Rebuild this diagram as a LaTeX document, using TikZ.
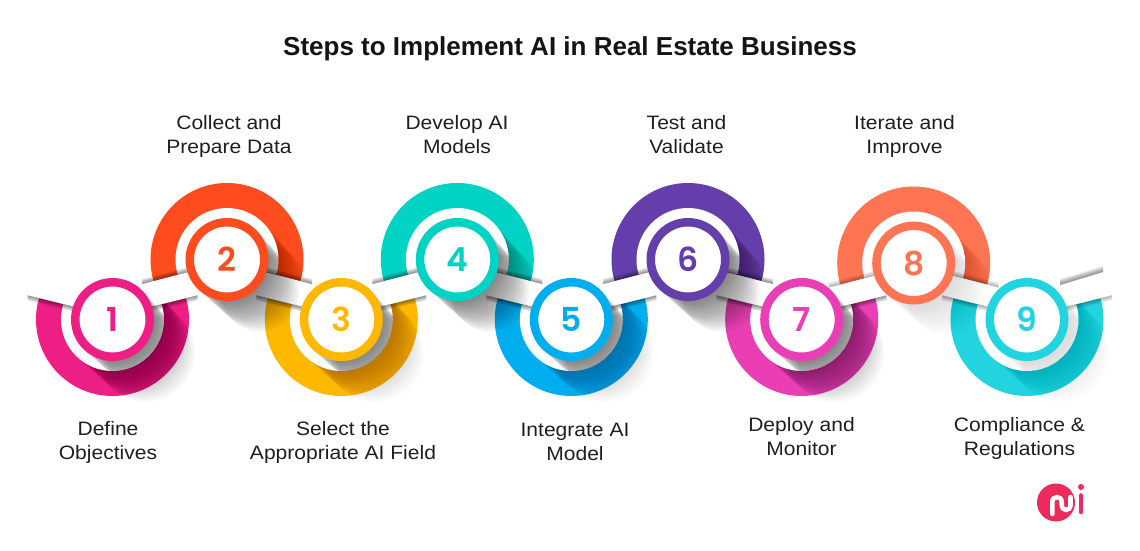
\documentclass[tikz,border=0pt]{standalone}
\usepackage{fontspec}
\setmainfont{Liberation Sans}
\newfontfamily\labelfont[FakeStretch=1.085]{Liberation Sans}
\newfontfamily\numfont[BoldFont={Poppins SemiBold}]{Poppins}
\tikzset{
  stepdisc/.style={circle,fill=white,line width=8.5pt,minimum size=74.5pt,inner sep=0pt,font=\numfont\fontsize{33}{33}\selectfont\bfseries},
  steplabel/.style={align=center,text=black!88,inner sep=0pt,font=\labelfont\fontsize{19.4}{24}\selectfont},
}
\definecolor{c1}{HTML}{ED1E84}
\definecolor{c2}{HTML}{FF4C1E}
\definecolor{c3}{HTML}{FFB800}
\definecolor{c4}{HTML}{00D2C3}
\definecolor{c5}{HTML}{00AEEF}
\definecolor{c6}{HTML}{643FAB}
\definecolor{c7}{HTML}{E93EB4}
\definecolor{c8}{HTML}{FF7553}
\definecolor{c9}{HTML}{22D3E0}
\definecolor{logoc}{HTML}{EC2A5B}
% sweep: x,y,radius,steps,alpha -- the disc narrows slightly as it moves, which softens the edge
\newcommand\sweepdisc[5]{\foreach \k in {1,...,#4}{\pgfmathsetmacro\rr{#3-0.08*\k}\fill[black,opacity=#5] (#1+\k,#2+\k) circle[radius=\rr pt];}}
\newcommand\topclip[2]{(#1-90,#2-90) -- (#1+90,#2-90) -- (#1+90,#2+25.9) -- (#1,#2+2.5) -- (#1-90,#2+25.9) -- cycle}
\newcommand\botclip[2]{(#1-130,#2+130) -- (#1+130,#2+130) -- (#1+130,#2-35.5) -- (#1,#2-3) -- (#1-130,#2-35.5) -- cycle}
\newcommand\belowtop[2]{(#1-130,#2+140) -- (#1+130,#2+140) -- (#1+130,#2+36.3) -- (#1,#2+2.5) -- (#1-130,#2+36.3) -- cycle}
% top ring: x,y,colour,alpha
\newcommand\topring[4]{\begin{scope}\clip \topclip{#1}{#2};
  \fill[#3] (#1,#2) circle[radius=76.5pt];
  \begin{scope}\clip (#1,#2) circle[radius=76.5pt];\sweepdisc{#1}{#2}{51.5}{34}{#4}\end{scope}
  \fill[white] (#1,#2) circle[radius=51.5pt];
\end{scope}}
\newcommand\botring[4]{\begin{scope}\clip \botclip{#1}{#2};
  \fill[#3] (#1,#2) circle[radius=76.5pt];
  \sweepdisc{#1}{#2}{51.5}{34}{#4}
  \fill[white] (#1,#2) circle[radius=51.5pt];
\end{scope}}
% strip between a top ring and a bottom ring: top x,y, bottom x,y, s = side of the top end
\newcommand\strip[5]{\fill[white] (#1,#2+2.5) -- (#1+#5*85,#2+24.6) -- (#3,#4-3) -- (#3-#5*85,#4-24.2) -- cycle;}
% bars: fade stack
\newcommand\edgebar[5]{\foreach \d in {1,...,6}{\fill[black,opacity=#5] (#1) -- (#2) -- ([yshift=#3*\d*1pt*#4]#2) -- ([yshift=#3*\d*1pt*#4]#1) -- cycle;}}
\newcommand\topbars[3]{%
  \edgebar{#1-85,#2+24.6}{#1-35,#2+11.6}{1}{.85}{#3}
  \edgebar{#1+85,#2+24.6}{#1+35,#2+11.6}{1}{.85}{#3}}
\newcommand\botbars[3]{%
  \edgebar{#1-85,#2-24.2}{#1-35,#2-11.8}{-1}{.85}{#3}
  \edgebar{#1+85,#2-24.2}{#1+35,#2-11.8}{-1}{.85}{#3}}
% circle shadow for a bottom step (inside the white hollow only)
\newcommand\botshadow[3]{\begin{scope}\clip (#1,#2) circle[radius=51.5pt];\sweepdisc{#1}{#2}{41.5}{34}{#3}\end{scope}}
% circle shadow for a top step (hollow plus everything under the strip line)
\newcommand\topshadow[3]{%
  \begin{scope}\clip \topclip{#1}{#2};\clip (#1,#2) circle[radius=51.5pt];\sweepdisc{#1}{#2}{41.5}{34}{#3}\end{scope}
  \begin{scope}\clip \belowtop{#1}{#2};\sweepdisc{#1}{#2}{41.5}{34}{#3}\end{scope}}
\begin{document}
\begin{tikzpicture}[x=1pt,y=-1pt]
\useasboundingbox (0,0) rectangle (1140,550);
\fill[white] (0,0) rectangle (1140,550);
% rings
\botring{112.5}{319.5}{c1}{.012}
\topring{227}{259.5}{c2}{.009}
\botring{341.3}{319.5}{c3}{.009}
\topring{457.3}{259.5}{c4}{.009}
\botring{571.3}{319.5}{c5}{.008}
\topring{688}{259.5}{c6}{.008}
\botring{801.7}{319.5}{c7}{.011}
\topring{913.7}{263}{c8}{.004}
\botring{1027}{319.5}{c9}{.003}
% strips
\strip{227}{259.5}{112.5}{319.5}{-1}
\strip{227}{259.5}{341.3}{319.5}{1}
\strip{457.3}{259.5}{341.3}{319.5}{-1}
\strip{457.3}{259.5}{571.3}{319.5}{1}
\strip{688}{259.5}{571.3}{319.5}{-1}
\strip{688}{259.5}{801.7}{319.5}{1}
\strip{913.7}{263}{801.7}{319.5}{-1}
\strip{913.7}{263}{1027}{319.5}{1}
\fill[white] (1027,316.5) -- (1112,295.3) -- (1103,272) -- (1060,285) -- cycle;
% strip edge shadows
\topbars{227}{259.5}{.08}
\topbars{457.3}{259.5}{.08}
\topbars{688}{259.5}{.08}
\topbars{913.7}{263}{.05}
\botbars{112.5}{319.5}{.08}
\botbars{341.3}{319.5}{.08}
\botbars{571.3}{319.5}{.08}
\botbars{801.7}{319.5}{.08}
\botbars{1027}{319.5}{.05}
\edgebar{1060,285}{1103,272}{1}{1}{.08}
% disc shadows
\botshadow{112.5}{319.5}{.014}
\topshadow{227}{259.5}{.014}
\botshadow{341.3}{319.5}{.014}
\topshadow{457.3}{259.5}{.014}
\botshadow{571.3}{319.5}{.014}
\topshadow{688}{259.5}{.014}
\botshadow{801.7}{319.5}{.014}
\topshadow{913.7}{263}{.004}
\botshadow{1027}{319.5}{.004}
% discs
\node[stepdisc,draw=c1,text=c1] (d1) at (112.5,319.5) {1};
\node[stepdisc,draw=c2,text=c2] (d2) at (227,259.5) {2};
\node[stepdisc,draw=c3,text=c3] (d3) at (341.3,319.5) {3};
\node[stepdisc,draw=c4,text=c4] (d4) at (457.3,259.5) {4};
\node[stepdisc,draw=c5,text=c5] (d5) at (571.3,319.5) {5};
\node[stepdisc,draw=c6,text=c6] (d6) at (688,259.5) {6};
\node[stepdisc,draw=c7,text=c7] (d7) at (801.7,319.5) {7};
\node[stepdisc,draw=c8,text=c8] (d8) at (913.7,263) {8};
\node[stepdisc,draw=c9,text=c9] (d9) at (1027,319.5) {9};
% text
\node[text=black!92,inner sep=0pt,font=\fontsize{26}{30}\selectfont\bfseries] (title) at (570,49) {Steps to Implement AI in Real Estate Business};
\node[steplabel] (l1) at (108,442) {Define\\Objectives};
\node[steplabel] (l2) at (229,136) {Collect and\\Prepare Data};
\node[steplabel] (l3) at (343,442) {Select the\\Appropriate AI Field};
\node[steplabel] (l4) at (457,135) {Develop AI\\Models};
\node[steplabel] (l5) at (575,442) {Integrate AI\\Model};
\node[steplabel] (l6) at (686.5,135) {Test and\\Validate};
\node[steplabel] (l7) at (801.5,437) {Deploy and\\Monitor};
\node[steplabel] (l8) at (904.5,136) {Iterate and\\Improve};
\node[steplabel] (l9) at (1019.5,438) {Compliance \&\\Regulations};
% logo
\fill[logoc] (1056,502.5) circle[radius=19pt];
\draw[white,line width=4.6pt,line cap=round] (1052.3,514) -- (1052.3,502) .. controls (1052.3,495.5) and (1061.7,495.5) .. (1061.7,502) -- (1061.7,505) .. controls (1061.7,511.5) and (1070.5,511.5) .. (1070.5,505) -- (1070.5,497);
\fill[logoc] (1081,487) circle[radius=3pt];
\draw[logoc,line width=4.6pt,line cap=round] (1081,495.5) -- (1081,512);
\end{tikzpicture}
\end{document}
